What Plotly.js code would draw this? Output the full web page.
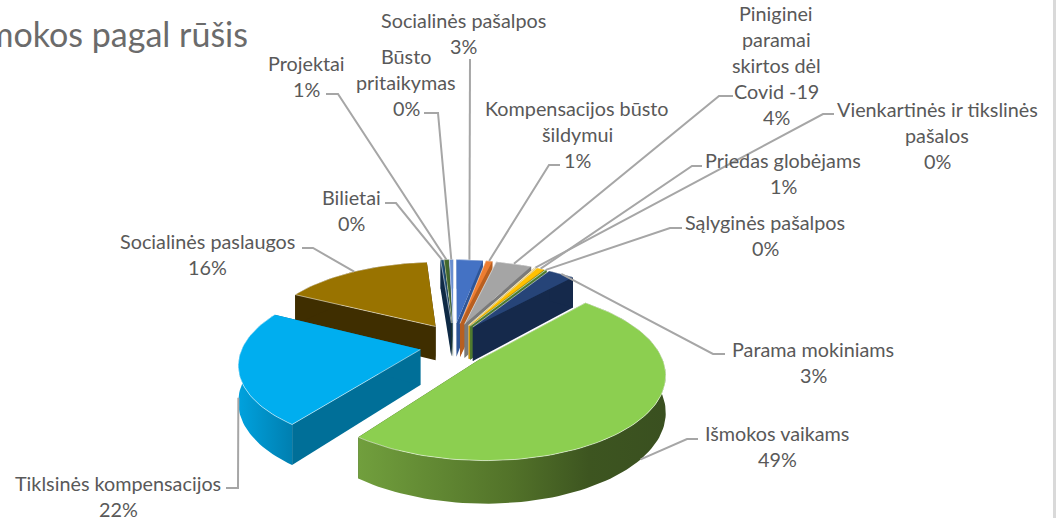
<!DOCTYPE html>
<html><head><meta charset="utf-8">
<script src="https://cdn.plot.ly/plotly-3.0.1.min.js"></script>
<style>html,body{margin:0;padding:0;background:#fff;overflow:hidden}</style>
</head><body><div id="chart" style="width:1060px;height:518px"></div>
<script>
// ---- data (shares in %, clockwise from 12 o'clock) ----
const categories = ["Socialinės pašalpos","Kompensacijos būsto šildymui","Piniginei paramai skirtos dėl Covid -19","Vienkartinės ir tikslinės pašalos","Priedas globėjams","Sąlyginės pašalpos","Parama mokiniams","Išmokos vaikams","Tiklsinės kompensacijos","Socialinės paslaugos","Bilietai","Projektai","Būsto pritaikymas"];
const values = [2.9,0.7,3.9,0.2,0.8,0.2,2.9,48.6,22.3,16.2,0.3,0.5,0.4];
const labelLines = [["Socialinės pašalpos"],["Kompensacijos būsto","šildymui"],["Piniginei","paramai","skirtos dėl","Covid -19"],["Vienkartinės ir tikslinės","pašalos"],["Priedas globėjams"],["Sąlyginės pašalpos"],["Parama mokiniams"],["Išmokos vaikams"],["Tiklsinės kompensacijos"],["Socialinės paslaugos"],["Bilietai"],["Projektai"],["Būsto","pritaikymas"]];

// ---- styles ----
const topColors = ["#4472c4","#ed7d31","#a5a5a5","#ffe699","#ffc000","#70ad47","#264478","#8ccf50","#00aeef","#997300","#1f4e79","#43682b","#698ed0"];
const sideColors = ["#2e5597","#b85f20","#7a7a7a","#c9b060","#c79500","#4e7a30","#15294b","#3a5020","#006f98","#3f2e00","#0f2a45","#2c451c","#4a6a9c"];
const rimStops = {7:[[0,"#719f3d"],[0.5,"#527229"],[0.75,"#3d5520"],[1,"#3a5020"]], 8:[[0,"#00a2de"],[1,"#007fb0"]]};
const labelCenter = [[463,20],[577,108],[776,13],[937,109],[783,160],[765,222],[813,349],[777,433],[118,483],[207,241],[351,197],[306,63],[406,56]];
const leaderElbows = [[[470,59]],[[560,165],[549,165]],[[733,96],[719,96]],[[834,114],[823,114]],[[702,166],[692,166]],[[682,228],[670,228]],[[725,354],[713,354]],[[698,439],[687,439]],[[226,488],[238,488]],[[302,248],[313,248]],[[385,203],[396,203]],[[326,94],[338,94]],[[424,113],[438,113]]];
const leaderDepth = [0,0,0,0,0,0,0,1,0.8,0,0,0,0];
const lineGap = 26, textColor = "#595959";

// ---- pie projection ----
const cx=453.5, cy=344.5, A=177, B=80, persp=0.16, exX=0.19, exY=0.28, depth=35;
function proj(u,v,z){const d=1+persp*v;return [cx+A*u/d, cy-(B*v-depth*z)/d];}
const total = values.reduce((a,b)=>a+b,0);
let cum=0;
const slices = values.map((val,i)=>{
  const a0=cum/total*2*Math.PI; cum+=val; const a1=cum/total*2*Math.PI, m=(a0+a1)/2;
  return {i,a0,a1,m,ox:exX*Math.sin(m),oy:exY*Math.cos(m)};
});
function rim(s,a,z){return proj(s.ox+Math.sin(a),s.oy+Math.cos(a),z);}
function apex(s,z){return proj(s.ox,s.oy,z);}
function arcPts(s,z){const n=Math.max(2,Math.ceil((s.a1-s.a0)/0.03)),o=[];for(let k=0;k<=n;k++)o.push(rim(s,s.a0+(s.a1-s.a0)*k/n,z));return o;}
function poly(pts,extra){return Object.assign({type:"scatter",mode:"lines",x:pts.map(p=>p[0]),y:pts.map(p=>p[1]),fill:"toself",hoverinfo:"skip",showlegend:false},extra);}

const traces=[];
slices.slice().sort((a,b)=>Math.cos(b.m)-Math.cos(a.m)).forEach(s=>{
  const noLine={line:{width:0,color:"rgba(0,0,0,0)"}};
  const side=sideColors[s.i];
  traces.push(poly([apex(s,0),rim(s,s.a0,0),rim(s,s.a0,1),apex(s,1)],Object.assign({fillcolor:side},noLine)));
  traces.push(poly([apex(s,0),rim(s,s.a1,0),rim(s,s.a1,1),apex(s,1)],Object.assign({fillcolor:side},noLine)));
  const top=arcPts(s,0),bot=arcPts(s,1).reverse();
  const rimOpts=Object.assign({},noLine);
  if(rimStops[s.i]){rimOpts.fillgradient={type:"horizontal",colorscale:rimStops[s.i]};}else{rimOpts.fillcolor=side;}
  traces.push(poly(top.concat(bot),rimOpts));
  traces.push(poly([apex(s,0)].concat(top),{fillcolor:topColors[s.i],line:{width:0.8,color:"rgba(255,255,255,0.65)"}}));
});
// leader lines
slices.forEach(s=>{
  const pts=leaderElbows[s.i].concat([rim(s,s.m,leaderDepth[s.i])]);
  traces.push({type:"scatter",mode:"lines",x:pts.map(p=>p[0]),y:pts.map(p=>p[1]),line:{color:"#a6a6a6",width:2},hoverinfo:"skip",showlegend:false});
});

// labels
const annotations=[];
labelLines.forEach((lines,i)=>{
  const [x,y0]=labelCenter[i];
  lines.concat([Math.round(values[i]/total*100)+"%"]).forEach((t,k)=>{
    annotations.push({xref:"x",yref:"y",x:x,y:y0+k*lineGap,text:t,showarrow:false,xanchor:"center",yanchor:"middle",font:{family:"Lato, sans-serif",size:19.8,color:textColor}});
  });
});

Plotly.newPlot("chart",traces,{
  width:1060,height:518,margin:{l:0,r:0,t:0,b:0},
  paper_bgcolor:"#fff",plot_bgcolor:"#fff",showlegend:false,
  title:{text:"Išmokos pagal rūšis",x:248/1060,xanchor:"right",y:1-35/518,yanchor:"middle",font:{family:"Lato, sans-serif",size:34,color:"#6b6b6b"}},
  xaxis:{range:[0,1060],visible:false,fixedrange:true},
  yaxis:{range:[518,0],visible:false,fixedrange:true},
  annotations:annotations,
  shapes:[{type:"line",xref:"x",yref:"paper",x0:1054.5,x1:1054.5,y0:0,y1:1,line:{color:"#d9d9d9",width:3}}]
},{displayModeBar:false,staticPlot:true});
</script></body></html>
